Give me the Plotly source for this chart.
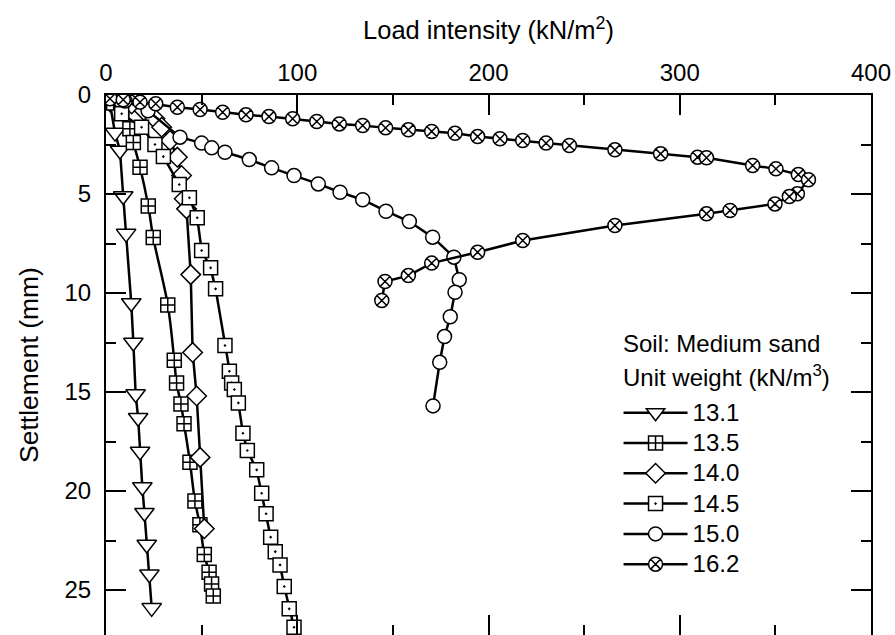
import plotly.graph_objects as go

# ---- data ----
x_131 = [0, 2.0, 4.7, 7.3, 9.0, 10.5, 13.2, 14.3, 15.5, 16.8, 17.8, 19.0, 20.1, 21.3, 22.7, 23.9]
y_131 = [0, 0.4, 1.9, 2.8, 5.1, 7.0, 10.5, 12.5, 15.1, 16.3, 18.0, 19.8, 21.1, 22.7, 24.2, 25.9]

x_135 = [0, 4.0, 8.2, 12.5, 14.3, 17.8, 22.1, 24.7, 32.3, 35.7, 36.9, 39.2, 40.8, 43.9, 46.5, 49.1, 51.4, 53.9, 55.2, 56.1]
y_135 = [0, 0.4, 0.9, 1.7, 2.4, 3.65, 5.6, 7.2, 10.6, 13.4, 14.55, 15.6, 16.6, 18.55, 20.5, 21.7, 23.2, 24.1, 24.7, 25.3]

x_140 = [0, 6.0, 13.4, 20.0, 25.6, 29.1, 33.5, 37.3, 39.5, 40.9, 42.1, 44.3, 45.3, 47.4, 49.2, 51.4]
y_140 = [0, 0.2, 0.45, 0.8, 1.2, 1.63, 2.3, 3.14, 4.07, 5.24, 5.75, 9.07, 13.0, 15.2, 18.3, 21.9]

x_145 = [0, 8.2, 18.6, 25.6, 30.0, 38.3, 43.6, 47.7, 50.0, 54.7, 57.3, 62.2, 64.5, 65.7, 67.1, 69.2, 71.6, 73.9,
         78.8, 81.4, 83.7, 86.1, 88.5, 91.0, 93.2, 95.8, 98.3]
y_145 = [0, 0.95, 1.63, 2.5, 3.11, 4.52, 5.19, 6.2, 7.85, 8.73, 9.79, 12.65, 13.95, 14.54, 14.87, 15.55, 17.08, 17.95,
         18.93, 20.11, 21.15, 22.33, 23.06, 23.73, 24.82, 25.95, 26.88]

x_150 = [0, 10.0, 22.0, 38.7, 50.0, 55.3, 62.2, 74.9, 86.6, 98.3, 111.0, 122.4, 134.2, 146.4, 158.6, 170.8, 181.9,
         184.7, 182.5, 180.0, 177.0, 174.5, 171.0]
y_150 = [0, 0.3, 0.8, 2.13, 2.43, 2.67, 2.89, 3.26, 3.68, 4.07, 4.49, 4.91, 5.29, 5.87, 6.39, 7.18, 8.19,
         9.33, 9.96, 11.2, 12.2, 13.5, 15.7]

x_162 = [0, 2.1, 9.0, 17.8, 26.0, 37.3, 49.2, 61.0, 73.2, 85.2, 97.6, 110.2, 122.0, 134.2, 146.2, 158.1, 170.3,
         182.5, 194.3, 206.0, 217.9, 230.1, 242.3, 266.1, 290.0, 309.3, 314.0, 338.1, 350.3, 362.0, 367.3,
         361.5, 357.3, 349.8, 326.3, 314.0, 266.1, 217.9, 194.3, 170.3, 158.1, 145.9, 144.2]
y_162 = [0, 0.19, 0.24, 0.36, 0.44, 0.62, 0.73, 0.87, 1.0, 1.09, 1.2, 1.34, 1.46, 1.54, 1.66, 1.76, 1.84,
         1.93, 2.1, 2.21, 2.3, 2.43, 2.55, 2.77, 2.97, 3.14, 3.17, 3.56, 3.73, 4.02, 4.28,
         4.99, 5.13, 5.5, 5.83, 6.0, 6.59, 7.35, 7.94, 8.49, 9.12, 9.42, 10.38]

series = [
    ("13.1", x_131, y_131, "triangle-down", 17, "linear"),
    ("13.5", x_135, y_135, "square-cross", 14, "spline"),
    ("14.0", x_140, y_140, "diamond", 15, "linear"),
    ("14.5", x_145, y_145, "square-dot", 14, "linear"),
    ("15.0", x_150, y_150, "circle", 14, "linear"),
    ("16.2", x_162, y_162, "circle-x", 14, "linear"),
]

legend_heading = ["Soil: Medium sand", "Unit weight (kN/m<sup>3</sup>)"]

FONT = "Liberation Sans, Arial, sans-serif"
FS = 24
LEG_FS = 21  # controls legend row spacing; text itself drawn at FS

def sized(txt, px=FS):
    return f'<span style="font-size:{px}px">{txt}</span>'

fig = go.Figure()
for name, xs, ys, sym, size, shape in series:
    fig.add_trace(go.Scatter(
        x=xs, y=ys, name=sized(name), mode="lines+markers",
        line=dict(color="black", width=2.5, shape=shape),
        marker=dict(symbol=sym, size=size, color="white",
                    line=dict(color="black", width=1.5)),
    ))

# empty trace so that the mirrored bottom axis (ticks only) is drawn
fig.add_trace(go.Scatter(x=[], y=[], xaxis="x2", yaxis="y", showlegend=False, hoverinfo="skip"))

tick_common = dict(ticks="inside", ticklen=20, tickwidth=2, tickcolor="black",
                   showgrid=False, zeroline=False)

# legend heading lines as text annotations (paper coords)
heading_y = [0.539, 0.479]
annotations = [
    dict(text=t, xref="paper", yref="paper", x=0.673, y=yy, xanchor="left", yanchor="middle",
         showarrow=False, font=dict(family=FONT, size=FS, color="black"))
    for t, yy in zip(legend_heading, heading_y)
]

fig.update_layout(
    width=895, height=635,
    margin=dict(l=106, r=24, t=95, b=0),
    paper_bgcolor="white", plot_bgcolor="white",
    font=dict(family=FONT, size=FS, color="black"),
    showlegend=True,
    annotations=annotations,
    xaxis=dict(range=[0, 400], side="top", dtick=100, tick0=0,
               showline=True, linewidth=2, linecolor="black", mirror=False,
               minor=dict(ticks="inside", ticklen=10, tickwidth=2, dtick=50, tickcolor="black"),
               title=dict(text="Load intensity (kN/m<sup>2</sup>)", standoff=12,
                          font=dict(family=FONT, size=25.5, color="black")),
               ticklabelstandoff=2,
               **tick_common),
    xaxis2=dict(range=[0, 400], overlaying="x", side="bottom", anchor="y", dtick=100, tick0=0,
                showline=False, showticklabels=False,
                minor=dict(ticks="inside", ticklen=10, tickwidth=2, dtick=50, tickcolor="black"),
                **tick_common),
    yaxis=dict(range=[27.27, 0], dtick=5, tick0=0,
               showline=True, linewidth=2, linecolor="black", mirror="ticks",
               minor=dict(ticks="inside", ticklen=10, tickwidth=2, dtick=2.5, tickcolor="black"),
               title=dict(text="Settlement (mm)", standoff=18,
                          font=dict(family=FONT, size=26.5, color="black")),
               ticklabelstandoff=8,
               **tick_common),
    legend=dict(
        x=0.670, y=0.449, xanchor="left", yanchor="top",
        bgcolor="rgba(0,0,0,0)", borderwidth=0,
        font=dict(family=FONT, size=LEG_FS, color="black"),
        itemwidth=64, tracegroupgap=0,
    ),
)

fig.write_html("out.html")
